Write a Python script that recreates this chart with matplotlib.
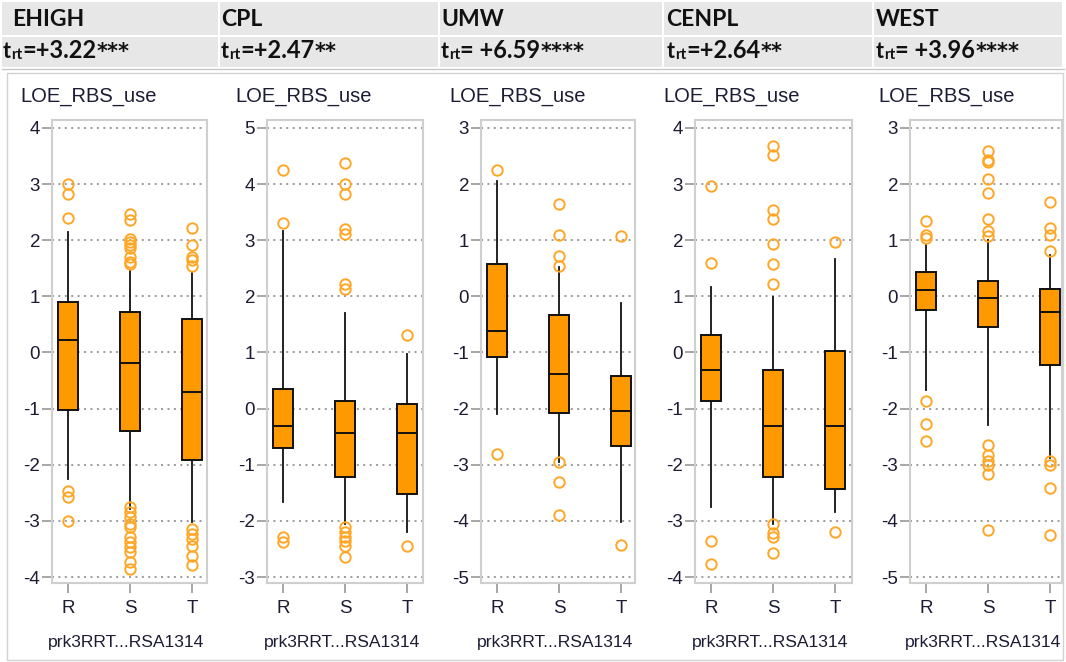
import matplotlib
matplotlib.use("Agg")
import matplotlib.pyplot as plt
from matplotlib.text import Annotation

plt.rcParams["font.family"] = ["Liberation Sans", "DejaVu Sans"]
plt.rcParams["xtick.labelsize"] = 13.5
plt.rcParams["ytick.labelsize"] = 13.5
plt.rcParams["axes.unicode_minus"] = False

# ---------------- data ----------------
regions = ["EHIGH", "CPL", "UMW", "CENPL", "WEST"]
t_numbers = ["+3.22", "+2.47", " +6.59", "+2.64", " +3.96"]
t_stars = ["***", "**", "****", "**", "****"]
groups = ["R", "S", "T"]
y_label = "LOE_RBS_use"
x_label = "prk3RRT...RSA1314"
y_top = [4, 5, 3, 4, 3]
y_bottom = [-4, -3, -5, -4, -5]

# per region: [R, S, T]
q1 = [[-1.02, -1.40, -1.92], [-0.70, -1.22, -1.52], [-1.08, -2.08, -2.66],
      [-0.87, -2.22, -2.43], [-0.24, -0.55, -1.22]]
med = [[0.23, -0.18, -0.71], [-0.31, -0.43, -0.43], [-0.62, -1.38, -2.04],
       [-0.32, -1.31, -1.31], [0.12, -0.03, -0.28]]
q3 = [[0.90, 0.73, 0.60], [0.35, 0.14, 0.08], [0.57, -0.34, -1.41],
      [0.31, -0.32, 0.02], [0.43, 0.27, 0.14]]
whis_lo = [[-2.26, -2.78, -3.02], [-1.67, -2.05, -2.20], [-2.09, -2.95, -4.02],
           [-2.75, -3.05, -2.84], [-1.66, -2.30, -2.88]]
whis_hi = [[2.14, 1.46, 1.43], [3.17, 1.71, 0.97], [2.06, 0.52, -0.11],
           [1.16, 0.98, 1.67], [0.92, 1.01, 0.74]]
outliers = [
    [[3.00, 2.82, 2.40, -2.46, -2.57, -3.00],
     [2.46, 2.36, 2.02, 1.97, 1.92, 1.87, 1.70, 1.62, 1.57,
      -2.75, -2.84, -2.93, -3.05, -3.11, -3.29, -3.37, -3.46, -3.55, -3.73, -3.85],
     [2.21, 1.92, 1.71, 1.65, 1.55, -3.14, -3.23, -3.32, -3.45, -3.62, -3.79]],
    [[4.25, 3.30, -2.29, -2.38],
     [4.37, 4.00, 3.82, 3.20, 3.12, 2.22, 2.13, -2.11, -2.20, -2.29, -2.35, -2.45, -2.65],
     [1.31, -2.45]],
    [[2.26, -2.80],
     [1.65, 1.09, 0.72, 0.54, -2.95, -3.30, -3.90],
     [1.07, -4.43]],
    [[2.97, 1.60, -3.36, -3.76],
     [3.68, 3.52, 2.54, 2.38, 1.94, 1.58, 1.22, -3.06, -3.22, -3.29, -3.58],
     [1.97, -3.19]],
    [[1.35, 1.10, 1.04, -1.87, -2.27, -2.57],
     [2.59, 2.43, 2.39, 2.09, 1.84, 1.38, 1.17, 1.07, -2.65, -2.82, -2.94, -3.01, -3.17, -4.17],
     [1.69, 1.22, 1.10, 0.81, -2.94, -3.01, -3.41, -4.25]],
]

# ---------------- layout ----------------
W, H = 1066, 662
fig = plt.figure(figsize=(W / 100, H / 100), dpi=100)

def fx(px):
    return px / W

def fy(py):
    return 1 - py / H

text_col = "#1c1c34"
band_col = "#e7e7e7"
orange = "#ff9900"
flier_col = "#ffa626"
head_col = "#111111"
head_font = "Lato"

# header table bands
col_edges = [2, 220, 440, 664, 874, 1064]
for i in range(5):
    x0, x1 = col_edges[i], col_edges[i + 1] - 2
    for (y0, y1) in [(2, 35), (37, 67)]:
        fig.patches.append(plt.Rectangle((fx(x0), fy(y1)), fx(x1 - x0), (y1 - y0) / H,
                                         transform=fig.transFigure, facecolor=band_col,
                                         edgecolor="none", zorder=0))
fig.add_artist(plt.Line2D([fx(2), fx(1064)], [fy(69), fy(69)], color="#c8c8c8", lw=1.0))
fig.patches.append(plt.Rectangle((fx(7), fy(660)), fx(1056), 587 / H, transform=fig.transFigure,
                                 facecolor="none", edgecolor="#d2d2d2", lw=1.0, zorder=0))

title_x = [12, 221, 441, 666, 876]
trt_x = [3, 221, 441, 667, 876]
for i in range(5):
    fig.text(fx(title_x[i]), fy(19), regions[i], fontsize=16.5, fontweight="bold",
             fontfamily=head_font, va="center", ha="left", color=head_col)
    t1 = fig.text(fx(trt_x[i]), fy(58), "t", fontsize=15.5, fontweight="bold",
                  fontfamily=head_font, va="baseline", ha="left", color=head_col)
    r = Annotation("rt", xy=(1, 0), xycoords=t1, va="bottom", ha="left",
                   fontsize=11, fontweight="bold", fontfamily=head_font, color=head_col)
    fig.add_artist(r)
    e = Annotation("=" + t_numbers[i], xy=(1, 0), xycoords=(r, t1), va="bottom", ha="left",
                   fontsize=17, fontweight="bold", fontfamily=head_font, color=head_col)
    fig.add_artist(e)
    s = Annotation(t_stars[i], xy=(1, 0), xycoords=(e, t1), va="bottom", ha="left",
                   fontsize=15, fontweight="bold", fontfamily="DejaVu Sans", color=head_col)
    fig.add_artist(s)

# panels
ax_left = [52, 267, 481, 695, 910]
ax_width = [155, 156, 154, 157, 152]
ax_top, ax_bot = 120, 583
spacing = 62.0
for i in range(5):
    w = ax_width[i]
    ax = fig.add_axes([fx(ax_left[i]), fy(ax_bot), w / W, (ax_bot - ax_top) / H])
    stats = []
    for j in range(3):
        stats.append(dict(med=med[i][j], q1=q1[i][j], q3=q3[i][j],
                          whislo=whis_lo[i][j], whishi=whis_hi[i][j],
                          fliers=outliers[i][j], label=groups[j]))
    ax.bxp(stats, positions=[0, 1, 2], widths=20 / spacing, patch_artist=True,
           showcaps=False,
           boxprops=dict(facecolor=orange, edgecolor="#111111", linewidth=1.4),
           medianprops=dict(color="#111111", linewidth=1.4),
           whiskerprops=dict(color="#111111", linewidth=1.3),
           flierprops=dict(marker="o", markerfacecolor="none", markeredgecolor=flier_col,
                           markersize=7.5, markeredgewidth=1.4))
    ax.set_xlim(-16 / spacing, 2 + (w - 16 - 2 * spacing) / spacing)
    ax.set_ylim(y_bottom[i] - 6 / 56.2, y_top[i] + 8 / 56.2)
    ax.set_yticks(range(y_bottom[i], y_top[i] + 1))
    ax.set_xticks([0, 1, 2])
    ax.set_xticklabels(groups)
    ax.yaxis.grid(True, linestyle=(0, (1, 2.3)), color="#9a9a9a", lw=1.4)
    ax.set_axisbelow(True)
    for sp in ax.spines.values():
        sp.set_color("#cfcfcf")
        sp.set_linewidth(1.5)
    ax.tick_params(axis="both", length=7, width=1.3, color="#a0a0a0", labelsize=13.5,
                   labelcolor=text_col)
    ax.tick_params(axis="y", pad=1.5)
    ax.tick_params(axis="x", pad=5)
    fig.text(fx(ax_left[i] - 32), fy(97), y_label, fontsize=14.5,
             color=text_col, va="center", ha="left")
    fig.text(fx(ax_left[i] + w / 2 - 3), fy(642), x_label, fontsize=12.6,
             color=text_col, va="center", ha="center")

fig.savefig("out.png", dpi=100)
